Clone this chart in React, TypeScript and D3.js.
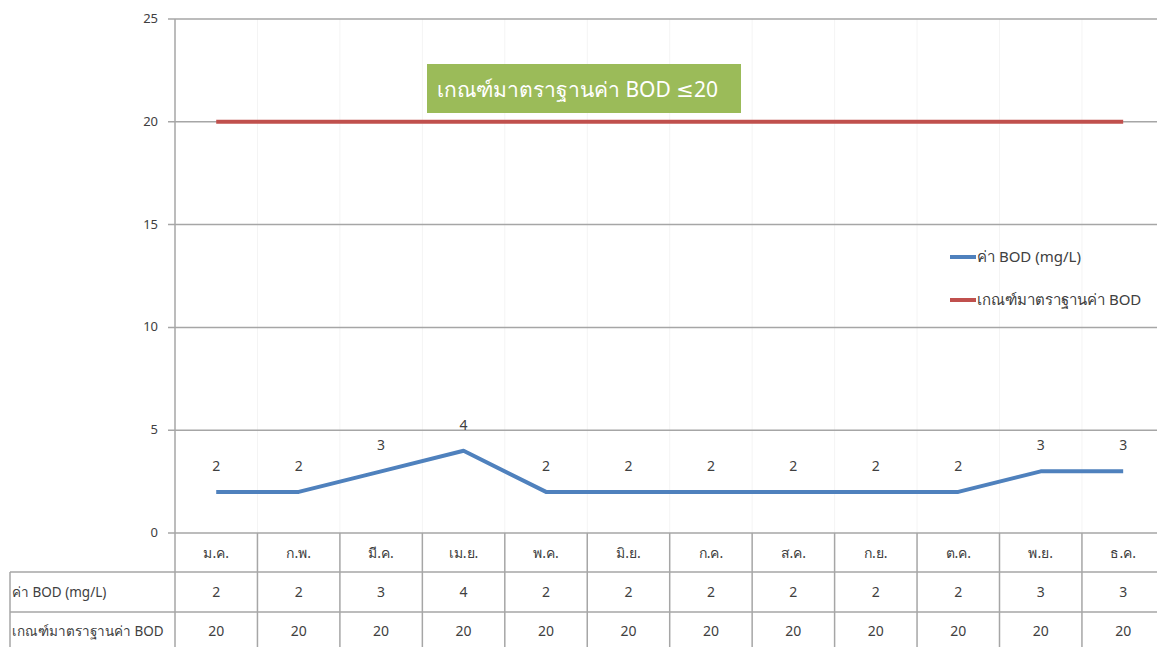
import React from "react";
import * as d3 from "d3";

const months = ["ม.ค.", "ก.พ.", "มี.ค.", "เม.ย.", "พ.ค.", "มิ.ย.", "ก.ค.", "ส.ค.", "ก.ย.", "ต.ค.", "พ.ย.", "ธ.ค."];
const bodValues = [2, 2, 3, 4, 2, 2, 2, 2, 2, 2, 3, 3];
const standardValues = [20, 20, 20, 20, 20, 20, 20, 20, 20, 20, 20, 20];
const yTicks = [0, 5, 10, 15, 20, 25];
const seriesNames = ["ค่า BOD (mg/L)", "เกณฑ์มาตราฐานค่า BOD"];
const annotationText = "เกณฑ์มาตราฐานค่า  BOD ≤20";

const W = 1157;
const H = 647;
const FONT = "'Noto Sans', 'DejaVu Sans', sans-serif";
const BLUE = "#4F81BD";
const RED = "#C0504D";
const GRID = "#A6A6A6";
const TEXT = "#404040";

export default function App() {
  const left = 175;
  const cellW = 82.45;
  const x = d3.scaleBand<string>().domain(months).range([left, left + cellW * months.length]).padding(0);
  const y = d3.scaleLinear().domain([0, 25]).range([533, 19]);
  const cx = (m: string) => (x(m) as number) + x.bandwidth() / 2;
  const right = left + cellW * months.length;

  const line = d3
    .line<number>()
    .x((_, i) => cx(months[i]))
    .y((d) => y(d));

  const rowTops = [533, 572, 612];
  const rowBottom = 660;

  return (
    <svg width={W} height={H} style={{ position: "absolute", left: 0, top: 0, background: "#fff" }} fontFamily={FONT}>
      {/* faint vertical gridlines */}
      {months.map((m, i) => (
        <line key={"vg" + i} x1={(x(m) as number) + cellW} x2={(x(m) as number) + cellW} y1={y(25)} y2={y(0)} stroke="#F4F4F4" strokeWidth={1} />
      ))}
      {/* horizontal gridlines */}
      {yTicks.map((t) => (
        <g key={"yt" + t}>
          <line x1={168} x2={right} y1={y(t)} y2={y(t)} stroke={GRID} strokeWidth={1.5} />
          <text x={158} y={y(t)} dy="0.3em" textAnchor="end" fontSize={13} fill={TEXT}>
            {t}
          </text>
        </g>
      ))}
      {/* y axis */}
      <line x1={left} x2={left} y1={y(25)} y2={rowBottom} stroke={GRID} strokeWidth={1.5} />

      {/* table */}
      {months.map((m, i) => (
        <line key={"tv" + i} x1={(x(m) as number) + cellW} x2={(x(m) as number) + cellW} y1={rowTops[0]} y2={rowBottom} stroke={GRID} strokeWidth={1.5} />
      ))}
      <line x1={10} x2={right} y1={rowTops[1]} y2={rowTops[1]} stroke={GRID} strokeWidth={1.5} />
      <line x1={10} x2={right} y1={rowTops[2]} y2={rowTops[2]} stroke={GRID} strokeWidth={1.5} />
      <line x1={10} x2={10} y1={rowTops[1]} y2={rowBottom} stroke={GRID} strokeWidth={1.5} />
      {months.map((m) => (
        <text key={"mh" + m} x={cx(m)} y={558} textAnchor="middle" fontSize={14} fill={TEXT}>
          {m}
        </text>
      ))}
      <text x={12} y={597} fontSize={13.5} fill={TEXT}>{seriesNames[0]}</text>
      <text x={12} y={636} fontSize={13.5} fill={TEXT}>{seriesNames[1]}</text>
      {months.map((m, i) => (
        <text key={"bv" + m} x={cx(m)} y={597} textAnchor="middle" fontSize={14} fill={TEXT}>
          {bodValues[i]}
        </text>
      ))}
      {months.map((m, i) => (
        <text key={"sv" + m} x={cx(m)} y={636} textAnchor="middle" fontSize={14} fill={TEXT}>
          {standardValues[i]}
        </text>
      ))}

      {/* series */}
      <path d={line(standardValues) || ""} fill="none" stroke={RED} strokeWidth={4} />
      <path d={line(bodValues) || ""} fill="none" stroke={BLUE} strokeWidth={4} strokeLinejoin="round" />
      {months.map((m, i) => (
        <text key={"dl" + m} x={cx(m)} y={y(bodValues[i]) - 21} textAnchor="middle" fontSize={14} fill={TEXT}>
          {bodValues[i]}
        </text>
      ))}

      {/* annotation */}
      <rect x={427} y={64} width={314} height={49} fill="#9BBB59" />
      <text x={437} y={97} fontSize={21} fill="#fff">{annotationText}</text>

      {/* legend */}
      <line x1={950} x2={976} y1={257} y2={257} stroke={BLUE} strokeWidth={4} />
      <text x={977} y={262} fontSize={15} fill={TEXT}>{seriesNames[0]}</text>
      <line x1={950} x2={976} y1={300} y2={300} stroke={RED} strokeWidth={4} />
      <text x={977} y={305} fontSize={15} fill={TEXT}>{seriesNames[1]}</text>
    </svg>
  );
}
